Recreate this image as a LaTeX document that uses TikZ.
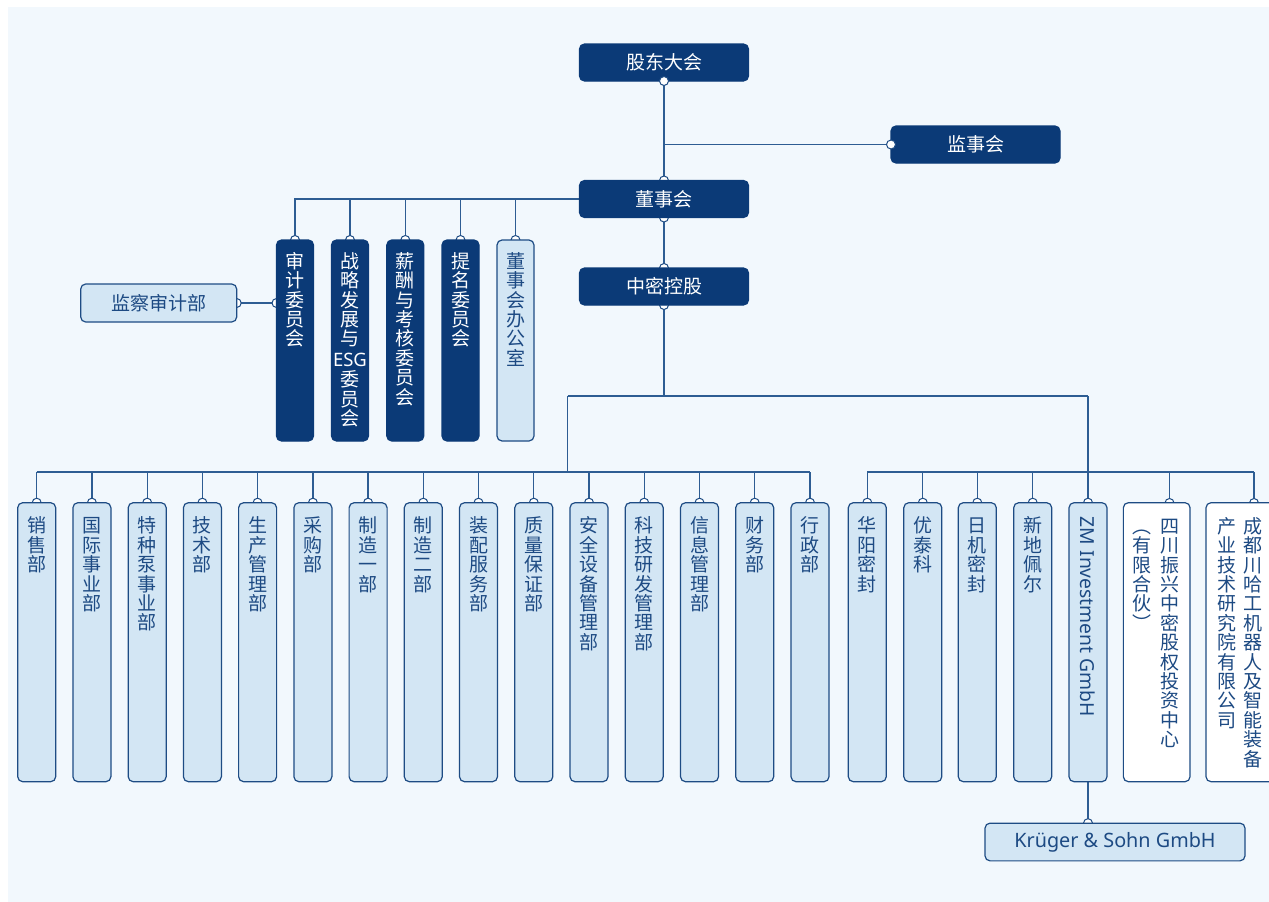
\documentclass[tikz,border=0pt]{standalone}
\usepackage{fontspec}
\setmainfont{Noto Sans}
\newfontfamily\cjk{Noto Sans CJK SC}
\newfontfamily\latin{Noto Sans}
\pgfdeclarelayer{bg}
\pgfsetlayers{bg,main}
\definecolor{navy}{HTML}{0B3A77}
\definecolor{boxline}{HTML}{1E4C84}
\definecolor{linecol}{HTML}{2E5D93}
\definecolor{lightfill}{HTML}{D3E6F4}
\definecolor{panel}{HTML}{F2F8FD}
\definecolor{navytext}{HTML}{1D4A83}
\newcommand{\vstrut}{\rule{0pt}{16pt}}
\newcommand{\deptbox}[5]{%
  \node[#3, minimum width=38, minimum height=279] (#1) at (#2,642.2) {};
  \node[vtxt, text=#4] (#1t) at ([yshift=-14pt]#1.north) {\vstrut{}#5};
}
\newcommand{\cmtbox}[5]{%
  \node[#3, minimum width=37, minimum height=201] (#1) at (#2,340.5) {};
  \node[vtxt, text=#4] (#1t) at ([yshift=-12pt]#1.north) {\vstrut{}#5};
}
\begin{document}
\begin{tikzpicture}[x=1pt,y=-1pt,
  box/.style={rectangle, rounded corners=5pt, draw=boxline, line width=1.2pt, inner sep=0pt, outer sep=0pt},
  dbox/.style={box, fill=navy, draw=navy, text=white, font=\cjk\fontsize{19}{19}\selectfont},
  lbox/.style={box, fill=lightfill, text=navytext, font=\cjk\fontsize{19}{19}\selectfont},
  wbox/.style={box, fill=white},
  vtxt/.style={align=center, inner sep=0pt, anchor=north, font=\cjk\fontsize{19}{19.4}\selectfont},
  conn/.style={draw=linecol, line width=1.3pt},
  dotc/.style={draw=boxline, fill=white, line width=1pt}]
\useasboundingbox (0,0) rectangle (1269,902);
\clip (0,0) rectangle (1269,902);
\begin{pgfonlayer}{bg}
\fill[white] (0,0) rectangle (1269,902);
\fill[panel] (8,7) rectangle (1269,902);
\end{pgfonlayer}

% top chain
\node[dbox, minimum width=169, minimum height=37] (gd) at (664,62.5) {股东大会};
\node[dbox, minimum width=169, minimum height=37] (js) at (975.5,144.5) {监事会};
\node[dbox, minimum width=169, minimum height=37] (ds) at (664,199) {董事会};
\node[dbox, minimum width=169, minimum height=37] (zm) at (664,286.5) {中密控股};
\node[lbox, minimum width=156, minimum height=38] (jc) at (158.7,303) {监察审计部};

% committees
\cmtbox{c1}{295}{dbox}{white}{审\\计\\委\\员\\会}
\cmtbox{c2}{350}{dbox}{white}{战\\略\\发\\展\\与\\[1pt]{\latin\fontsize{18.5}{19}\selectfont ESG}\\[1pt]委\\员\\会}
\cmtbox{c3}{405.3}{dbox}{white}{薪\\酬\\与\\考\\核\\委\\员\\会}
\cmtbox{c4}{460.5}{dbox}{white}{提\\名\\委\\员\\会}
\cmtbox{c5}{515.5}{lbox}{navytext}{董\\事\\会\\办\\公\\室}

% departments
\deptbox{b1}{36.7}{lbox}{navytext}{销\\售\\部}
\deptbox{b2}{91.9}{lbox}{navytext}{国\\际\\事\\业\\部}
\deptbox{b3}{147.2}{lbox}{navytext}{特\\种\\泵\\事\\业\\部}
\deptbox{b4}{202.4}{lbox}{navytext}{技\\术\\部}
\deptbox{b5}{257.6}{lbox}{navytext}{生\\产\\管\\理\\部}
\deptbox{b6}{312.9}{lbox}{navytext}{采\\购\\部}
\deptbox{b7}{368.1}{lbox}{navytext}{制\\造\\一\\部}
\deptbox{b8}{423.3}{lbox}{navytext}{制\\造\\二\\部}
\deptbox{b9}{478.5}{lbox}{navytext}{装\\配\\服\\务\\部}
\deptbox{b10}{533.8}{lbox}{navytext}{质\\量\\保\\证\\部}
\deptbox{b11}{589.0}{lbox}{navytext}{安\\全\\设\\备\\管\\理\\部}
\deptbox{b12}{644.2}{lbox}{navytext}{科\\技\\研\\发\\管\\理\\部}
\deptbox{b13}{699.5}{lbox}{navytext}{信\\息\\管\\理\\部}
\deptbox{b14}{754.7}{lbox}{navytext}{财\\务\\部}
\deptbox{b15}{810}{lbox}{navytext}{行\\政\\部}

% subsidiaries
\deptbox{r1}{867.3}{lbox}{navytext}{华\\阳\\密\\封}
\deptbox{r2}{922.8}{lbox}{navytext}{优\\泰\\科}
\deptbox{r3}{977.3}{lbox}{navytext}{日\\机\\密\\封}
\deptbox{r4}{1032.7}{lbox}{navytext}{新\\地\\佩\\尔}
\node[lbox, minimum width=38, minimum height=279] (r5) at (1088,642.2) {};
\node[rotate=-90, anchor=west, inner sep=0pt, font=\latin\fontsize{19.3}{19}\selectfont, text=navytext] (r5t) at ([yshift=-14pt]r5.north) {ZM Investment GmbH};
\node[wbox, minimum width=66.7, minimum height=279] (r6) at (1156.7,642.2) {};
\coordinate (r6c) at (1169.5,503);
\node[vtxt, text=navytext] (r6a) at (1170,517) {\vstrut{}四\\川\\振\\兴\\中\\密\\股\\权\\投\\资\\中\\心};
\node[vtxt, text=navytext] (r6b) at (1141.7,517) {\vstrut{}︵\\有\\限\\合\\伙\\︶};
\node[wbox, minimum width=68, minimum height=279] (r7) at (1240,642.2) {};
\coordinate (r7c) at (1254,503);
\node[vtxt, text=navytext] (r7a) at (1253.3,517) {\vstrut{}成\\都\\川\\哈\\工\\机\\器\\人\\及\\智\\能\\装\\备};
\node[vtxt, text=navytext] (r7b) at (1226.7,517) {\vstrut{}产\\业\\技\\术\\研\\究\\院\\有\\限\\公\\司};
\node[lbox, minimum width=260, minimum height=37.7, font=\latin\fontsize{19.8}{19}\selectfont] (kr) at (1115,842) {Krüger \& Sohn GmbH};

\coordinate (h1) at (567.7,396);
\coordinate (h2) at (1088,396);
\coordinate (busL) at (0,472);

\begin{pgfonlayer}{bg}
\draw[conn] (gd.south) -- (ds.north);
\draw[conn] (gd.south |- js.west) -- (js.west);
\draw[conn] (ds.south) -- (zm.north);
\draw[conn] (ds.west) -- (ds.west -| c1.north) -- (c1.north);
\foreach \n in {c2,c3,c4,c5} \draw[conn] (\n.north) -- (\n.north |- ds.west);
\draw[conn] (jc.east) -- (jc.east -| c1.west);
\draw[conn] (zm.south) -- (zm.south |- h1);
\draw[conn] (h1) -- (h2);
\draw[conn] (h1) -- (h1 |- busL);
\draw[conn] (b1.north |- busL) -- (b15.north |- busL);
\foreach \n in {b1,b2,b3,b4,b5,b6,b7,b8,b9,b10,b11,b12,b13,b14,b15,r1,r2,r3,r4,r5} \draw[conn] (\n.north) -- (\n.north |- busL);
\draw[conn] (h2) -- (h2 |- busL);
\draw[conn] (r1.north |- busL) -- (r7c |- busL);
\draw[conn] (r6c) -- (r6c |- busL);
\draw[conn] (r7c) -- (r7c |- busL);
\draw[conn] (r5.south) -- (r5.south |- kr.north);
% dots under boxes
\draw[dotc] (ds.north) circle[radius=4.5pt];
\draw[dotc] (ds.south) circle[radius=4.5pt];
\draw[dotc] (zm.north) circle[radius=4.5pt];
\draw[dotc] (zm.south) circle[radius=4.5pt];
\draw[dotc] (jc.east) circle[radius=4.5pt];
\draw[dotc] (jc.east -| c1.west) circle[radius=4.5pt];
\foreach \n in {c1,c2,c3,c4,c5,b1,b2,b3,b4,b5,b6,b7,b8,b9,b10,b11,b12,b13,b14,b15,r1,r2,r3,r4,r5}
  \draw[dotc] (\n.north) circle[radius=4.5pt];
\draw[dotc] (r6c) circle[radius=4.5pt];
\draw[dotc] (r7c) circle[radius=4.5pt];
\draw[dotc] (r5.south |- kr.north) circle[radius=4.5pt];
\end{pgfonlayer}
% full dots on top
\draw[dotc] (gd.south) circle[radius=4.5pt];
\draw[dotc] (js.west) circle[radius=4.5pt];
\end{tikzpicture}
\end{document}
